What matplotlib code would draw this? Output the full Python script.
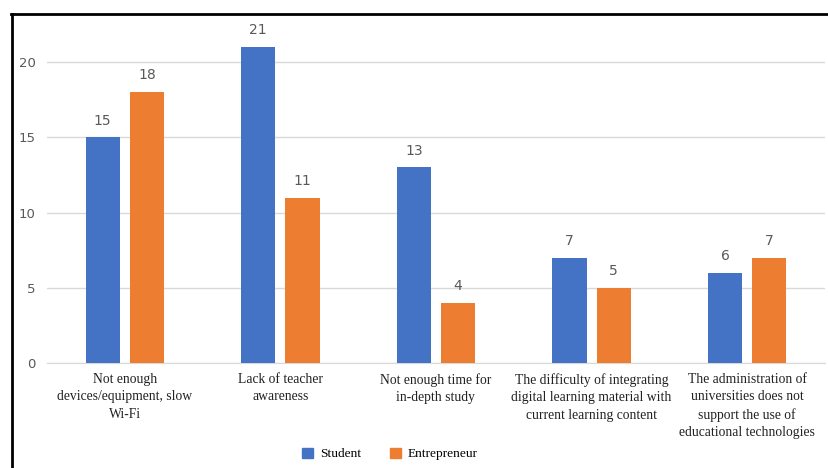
import numpy as np
import matplotlib.pyplot as plt
from matplotlib.lines import Line2D
from matplotlib.patches import Patch

# 数据
categories = ['Not enough\ndevices/equipment, slow\nWi-Fi',
              'Lack of teacher\nawareness',
              'Not enough time for\nin-depth study',
              'The difficulty of integrating\ndigital learning material with\ncurrent learning content',
              'The administration of\nuniversities does not\nsupport the use of\neducational technologies']
student = [15, 21, 13, 7, 6]
entrepreneur = [18, 11, 4, 5, 7]
series_names = ['Student', 'Entrepreneur']
y_ticks = [0, 5, 10, 15, 20]

c_blue = '#4472C4'
c_orange = '#ED7D31'
c_text = '#595959'

fig = plt.figure(figsize=(8.29, 4.68), dpi=100)
ax = fig.add_axes([47 / 829, 105 / 468, 778 / 829, 331 / 468])

x = np.arange(len(categories))
w = 0.22
gap = 0.064
b1 = ax.bar(x - (w + gap) / 2, student, w, color=c_blue, zorder=3)
b2 = ax.bar(x + (w + gap) / 2, entrepreneur, w, color=c_orange, zorder=3)

# 数据标签
for bars in (b1, b2):
    for r in bars:
        ax.annotate('%d' % r.get_height(), (r.get_x() + r.get_width() / 2, r.get_height()),
                    xytext=(0, 7), textcoords='offset points', ha='center', va='bottom',
                    fontsize=10, color=c_text, family='DejaVu Sans')

ax.set_xlim(-0.5, len(categories) - 0.5)
ax.set_ylim(0, 22)
ax.set_yticks(y_ticks)
ax.yaxis.grid(True, color='#D9D9D9', lw=1, zorder=0)
for s in ['top', 'right', 'left']:
    ax.spines[s].set_visible(False)
ax.spines['bottom'].set_color('#D9D9D9')
ax.tick_params(axis='both', length=0)
ax.tick_params(axis='y', labelcolor=c_text, labelsize=9.5, pad=8)
ax.set_xticks(x)
ax.set_xticklabels(categories, family='Liberation Serif', fontsize=9.8, color='#222222',
                   linespacing=1.45)
ax.tick_params(axis='x', pad=7)

# 图例
handles = [Patch(color=c_blue), Patch(color=c_orange)]
fig.legend(handles, series_names, loc='center', bbox_to_anchor=(390 / 829, 1 - 454 / 468),
           ncol=2, frameon=False, prop={'family': 'Liberation Serif', 'size': 9.6},
           handlelength=0.8, handleheight=0.8, columnspacing=2.2, handletextpad=0.5)

# 外框
fig.add_artist(Line2D([12 / 829, 12 / 829], [0, 1 - 14 / 468], transform=fig.transFigure,
                      color='black', lw=2))
fig.add_artist(Line2D([11 / 829, 1], [1 - 14 / 468, 1 - 14 / 468], transform=fig.transFigure,
                      color='black', lw=2))

fig.savefig('out.png', dpi=100)
